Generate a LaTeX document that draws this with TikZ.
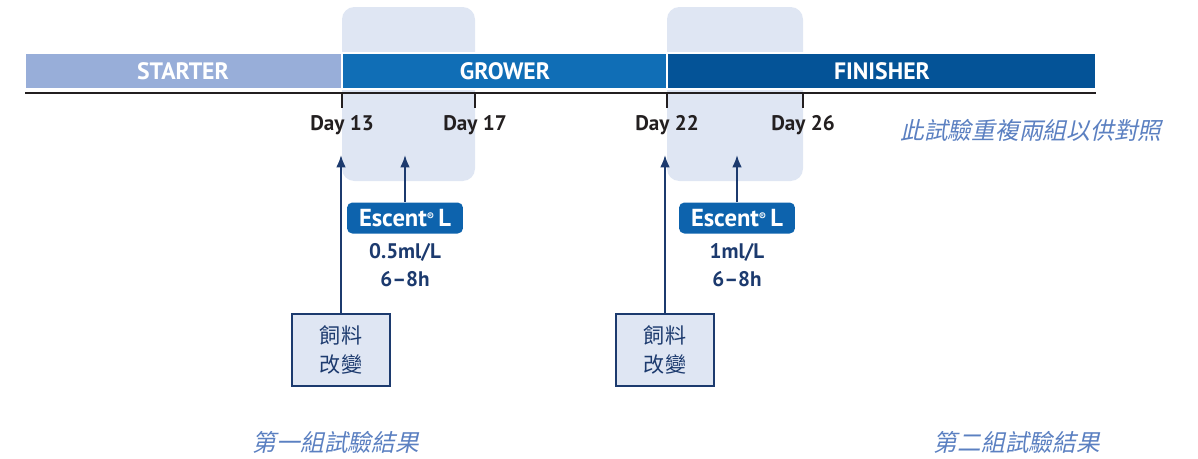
\documentclass[tikz,border=0pt]{standalone}
\usepackage{fontspec}
\setmainfont{PT Sans}
\newfontfamily\cjk{Noto Sans CJK TC}
\newfontfamily\cjkit[FakeSlant=0.22]{Noto Sans CJK TC}
\usetikzlibrary{calc,positioning,arrows.meta}

\definecolor{starter}{HTML}{98AED9}
\definecolor{grower}{HTML}{106EB6}
\definecolor{finisher}{HTML}{045397}
\definecolor{window}{HTML}{DFE6F3}
\definecolor{navy}{HTML}{1C3A6E}
\definecolor{escent}{HTML}{0D63AD}
\definecolor{note}{HTML}{5B80C1}
\definecolor{ink}{HTML}{231F20}

\begin{document}
\begin{tikzpicture}[x=0.02cm, y=-0.02cm, every node/.style={inner sep=2pt},
    phase/.style={text=white, font=\bfseries\fontsize{13.5}{13.5}\selectfont},
    day/.style={text=ink, font=\bfseries\fontsize{12}{12}\selectfont},
    escbox/.style={fill=escent, text=white, rounded corners=3pt,
        minimum width=2.32cm, minimum height=0.62cm,
        font=\bfseries\fontsize{14}{14}\selectfont},
    dose/.style={text=navy, align=center, font=\bfseries\fontsize{12}{16}\selectfont},
    feed/.style={draw=navy, line width=1pt, fill=window, text=navy, align=center,
        minimum width=1.96cm, minimum height=1.44cm,
        font=\cjk\fontsize{12}{16.5}\selectfont},
    note/.style={text=note, font=\cjkit\fontsize{13.5}{16}\selectfont},
    feedarrow/.style={-{Latex[length=7pt,width=5.5pt]}, draw=navy, line width=1.1pt}]

    \useasboundingbox (0,0) rectangle (1198,458);

    % trial windows
    \fill[window, rounded corners=7pt] (342,7) rectangle (475,181);
    \fill[window, rounded corners=7pt] (667,7) rectangle (803,181);

    % phase bar
    \filldraw[fill=starter, draw=white, line width=1.1pt] (25,53) rectangle (342,89);
    \filldraw[fill=grower, draw=white, line width=1.1pt] (342,53) rectangle (667,89);
    \filldraw[fill=finisher, draw=white, line width=1.1pt] (667,53) rectangle (1096,89);
    \node[phase] (starter) at (183,71) {STARTER};
    \node[phase] (grower) at (505,71) {GROWER};
    \node[phase] (finisher) at (882,71) {FINISHER};

    \draw[ink, line width=1.2pt] (25,93) -- (1096,93);

    % days
    \foreach \x/\d in {342/13, 475/17, 667/22, 803/26} {
        \draw[ink, line width=0.8pt] (\x,93) -- (\x,108);
        \node[day] (day\d) at (\x,125) {Day \d};
    }

    \coordinate (t13) at (342,155);
    \coordinate (t22) at (667,155);

    % first trial
    \node[escbox] (esc1) at (405,218) {Escent{\fontsize{6}{6}\selectfont\raisebox{1.1ex}{®}}\,L};
    \node[dose, below=3pt of esc1] (dose1) {0.5ml/L\\6--8h};
    \node[feed] (feed1) at (341,350) {飼料\\改變};
    \draw[feedarrow] (feed1.north) -- (feed1.north |- t13);
    \draw[feedarrow] (esc1.north) -- (esc1.north |- t13);

    % second trial
    \node[escbox] (esc2) at (737,218) {Escent{\fontsize{6}{6}\selectfont\raisebox{1.1ex}{®}}\,L};
    \node[dose, below=3pt of esc2] (dose2) {1ml/L\\6--8h};
    \node[feed] (feed2) at (665,350) {飼料\\改變};
    \draw[feedarrow] (feed2.north) -- (feed2.north |- t22);
    \draw[feedarrow] (esc2.north) -- (esc2.north |- t22);

    % notes
    \node[note] (repeat) at (1031,130) {此試驗重複兩組以供對照};
    \node[note] (res1) at (336,442) {第一組試驗結果};
    \node[note] (res2) at (1017,442) {第二組試驗結果};

\end{tikzpicture}
\end{document}
